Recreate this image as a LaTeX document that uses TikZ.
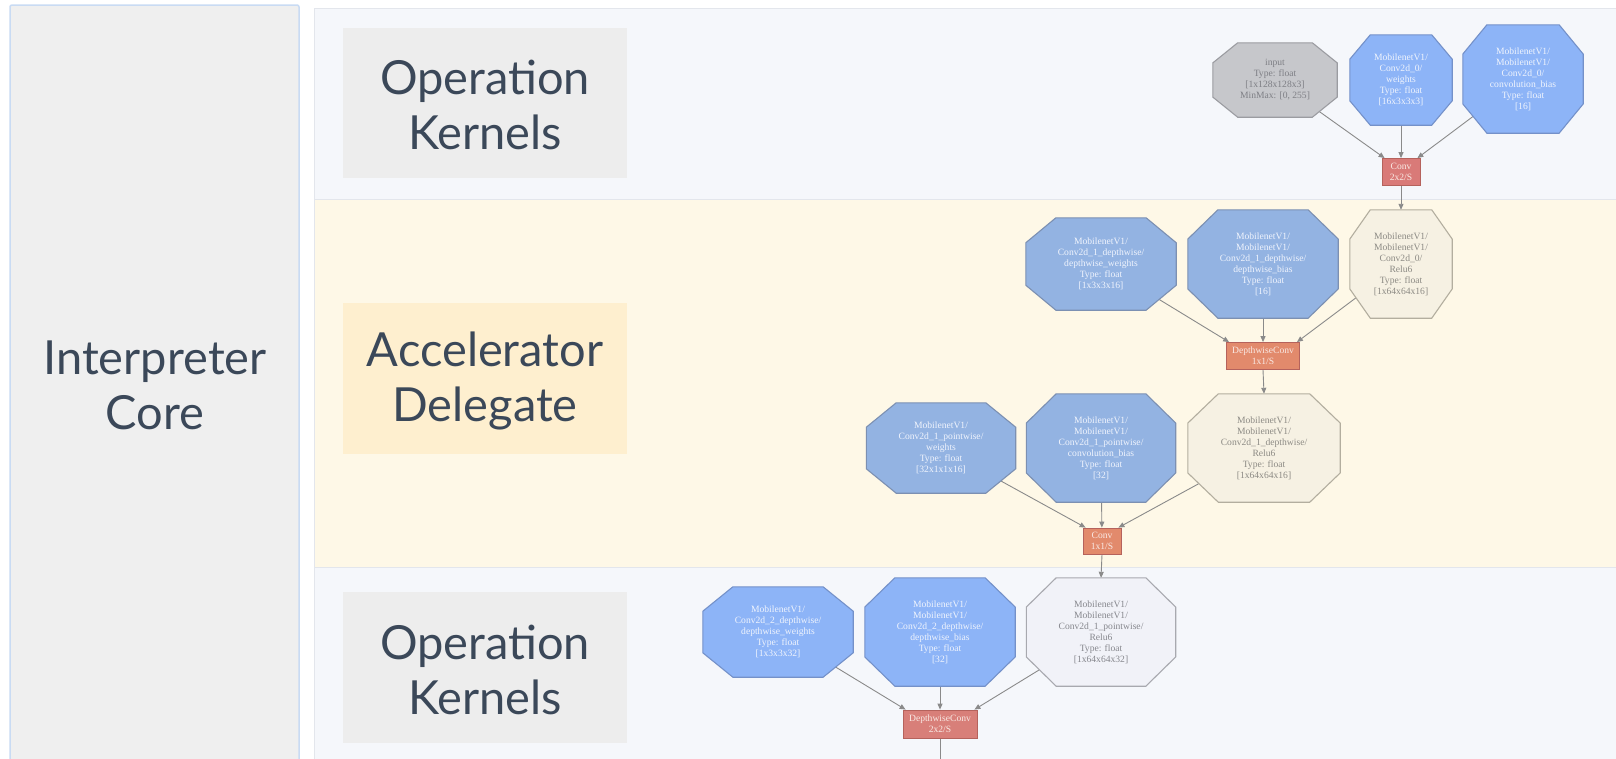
\documentclass[tikz,border=0pt]{standalone}
\usepackage{fontspec}
\setmainfont{Liberation Serif}
\newfontfamily\labelfont{Lato}
\usetikzlibrary{arrows.meta,calc}
\definecolor{leftfill}{HTML}{EFEFEF}
\definecolor{leftdraw}{HTML}{C9DBF3}
\definecolor{bandgrey}{HTML}{F5F7FB}
\definecolor{bandline}{HTML}{E3E6EC}
\definecolor{bandyellow}{HTML}{FEF8E7}
\definecolor{lblgrey}{HTML}{EDEDED}
\definecolor{lblyellow}{HTML}{FEEFCF}
\definecolor{lbltext}{HTML}{3B4859}
\definecolor{blueT}{HTML}{8DB4F7}
\definecolor{blueTd}{HTML}{7491C9}
\definecolor{blueY}{HTML}{93B3E2}
\definecolor{blueYd}{HTML}{7C90B2}
\definecolor{creamF}{HTML}{F6F1E3}
\definecolor{creamD}{HTML}{B3AE9F}
\definecolor{lightF}{HTML}{F1F2F8}
\definecolor{lightD}{HTML}{A8A9AF}
\definecolor{greyF}{HTML}{C6C7CB}
\definecolor{greyD}{HTML}{9B9CA1}
\definecolor{opT}{HTML}{D97A78}
\definecolor{opY}{HTML}{E28A6C}
\definecolor{opB}{HTML}{D87F79}
\definecolor{opD}{HTML}{B5625C}
\definecolor{edgecol}{HTML}{8A8A8A}
\definecolor{whitetext}{HTML}{F0F4FD}
\definecolor{greytext}{HTML}{8C8A84}
\definecolor{greytextB}{HTML}{86878D}
\definecolor{greytextI}{HTML}{7E7F85}
\definecolor{optext}{HTML}{F9E9E4}
\pgfdeclarelayer{back}
\pgfdeclarelayer{edges}
\pgfdeclarelayer{shapes}
\pgfsetlayers{back,edges,shapes,main}
\newcommand\octagonshape[2]{%
  \begin{pgfonlayer}{shapes}
    \path[#2] ($(#1.south west)!0.2!(#1.south east)$) -- ($(#1.south west)!0.8!(#1.south east)$)
      -- ($(#1.south east)!0.27!(#1.north east)$) -- ($(#1.south east)!0.73!(#1.north east)$)
      -- ($(#1.north east)!0.2!(#1.north west)$) -- ($(#1.north east)!0.8!(#1.north west)$)
      -- ($(#1.north west)!0.27!(#1.south west)$) -- ($(#1.north west)!0.73!(#1.south west)$)
      -- cycle;
  \end{pgfonlayer}}
\tikzset{
  octnode/.style={rectangle, inner sep=0pt, align=center, font=\fontsize{9.6}{11}\selectfont},
  bluetxt/.style={octnode, text=whitetext},
  greytxt/.style={octnode, text=greytext},
  blueTshape/.style={fill=blueT, draw=blueTd, line width=1.1pt},
  blueYshape/.style={fill=blueY, draw=blueYd, line width=1.1pt},
  creamshape/.style={fill=creamF, draw=creamD, line width=1.1pt},
  lightshape/.style={fill=lightF, draw=lightD, line width=1.1pt},
  greyshape/.style={fill=greyF, draw=greyD, line width=1.1pt},
  opbox/.style={rectangle, inner sep=0pt, align=center, draw=opD, line width=0.8pt,
    text=optext, font=\fontsize{9.6}{11}\selectfont},
  edge/.style={draw=edgecol, line width=0.9pt, -{Triangle[length=6pt,width=5pt]}},
  plainedge/.style={draw=edgecol, line width=0.9pt},
  lblbox/.style={rectangle, inner sep=0pt, align=center, minimum width=284, minimum height=150,
    text=lbltext, font=\labelfont\fontsize{47}{55}\selectfont},
}
\begin{document}
\begin{tikzpicture}[x=1pt, y=-1pt]
\useasboundingbox (0,0) rectangle (1616,758);
\begin{pgfonlayer}{back}
  \fill[white] (0,0) rectangle (1616,758);
  \path[fill=leftfill, draw=leftdraw, line width=1.5pt, rounded corners=2pt] (10,5) rectangle (299,775);
  \path[fill=bandgrey, draw=bandline, line width=0.8pt] (314,8) rectangle (1640,199);
  \path[fill=bandyellow, draw=bandline, line width=0.8pt] (314,199) rectangle (1640,567);
  \path[fill=bandgrey, draw=bandline, line width=0.8pt] (314,567) rectangle (1640,775);
\end{pgfonlayer}

% labels
\node[lblbox, minimum width=0, minimum height=0] (core) at (155,385) {Interpreter\\Core};
\node[lblbox, fill=lblgrey] (okTop) at (485,102.5) {};
\node[lblbox, minimum width=0, minimum height=0] (okTopT) at (485,105) {Operation\\Kernels};
\node[lblbox, fill=lblyellow, minimum height=151] (acc) at (485,378.5) {};
\node[lblbox, minimum width=0, minimum height=0] (accT) at (485,381) {Accelerator\\Delegate};
\node[lblbox, fill=lblgrey, minimum height=151] (okBot) at (485,667.5) {};
\node[lblbox, minimum width=0, minimum height=0] (okBotT) at (485,670) {Operation\\Kernels};

% top band
\node[greytxt, text=greytextI, minimum width=124, minimum height=74] (in) at (1275,80)
  {input\\Type: float\\{[1x128x128x3]}\\MinMax: {[0, 255]}};
\node[bluetxt, minimum width=102, minimum height=90] (w0) at (1401,80)
  {MobilenetV1/\\Conv2d\_0/\\weights\\Type: float\\{[16x3x3x3]}};
\node[bluetxt, minimum width=120, minimum height=108] (b0) at (1523,79)
  {MobilenetV1/\\MobilenetV1/\\Conv2d\_0/\\convolution\_bias\\Type: float\\{[16]}};
\node[opbox, fill=opT, minimum width=38, minimum height=27] (c0) at (1401,172) {Conv\\2x2/S};
\octagonshape{in}{greyshape}
\octagonshape{w0}{blueTshape}
\octagonshape{b0}{blueTshape}

% yellow band, row 1
\node[bluetxt, minimum width=150, minimum height=92] (dw1w) at (1101,264)
  {MobilenetV1/\\Conv2d\_1\_depthwise/\\depthwise\_weights\\Type: float\\{[1x3x3x16]}};
\node[bluetxt, minimum width=150, minimum height=108] (dw1b) at (1263,264)
  {MobilenetV1/\\MobilenetV1/\\Conv2d\_1\_depthwise/\\depthwise\_bias\\Type: float\\{[16]}};
\node[greytxt, minimum width=102, minimum height=108] (r0) at (1401,264)
  {MobilenetV1/\\MobilenetV1/\\Conv2d\_0/\\Relu6\\Type: float\\{[1x64x64x16]}};
\node[opbox, fill=opY, minimum width=73, minimum height=27] (dc1) at (1263,356) {DepthwiseConv\\1x1/S};
\octagonshape{dw1w}{blueYshape}
\octagonshape{dw1b}{blueYshape}
\octagonshape{r0}{creamshape}

% yellow band, row 2
\node[bluetxt, minimum width=149, minimum height=90] (pww) at (941,448)
  {MobilenetV1/\\Conv2d\_1\_pointwise/\\weights\\Type: float\\{[32x1x1x16]}};
\node[bluetxt, minimum width=149, minimum height=108] (pwb) at (1101,448)
  {MobilenetV1/\\MobilenetV1/\\Conv2d\_1\_pointwise/\\convolution\_bias\\Type: float\\{[32]}};
\node[greytxt, minimum width=152, minimum height=108] (r1) at (1264,448)
  {MobilenetV1/\\MobilenetV1/\\Conv2d\_1\_depthwise/\\Relu6\\Type: float\\{[1x64x64x16]}};
\node[opbox, fill=opY, minimum width=38, minimum height=26] (c1) at (1102,541) {Conv\\1x1/S};
\octagonshape{pww}{blueYshape}
\octagonshape{pwb}{blueYshape}
\octagonshape{r1}{creamshape}

% bottom band
\node[bluetxt, minimum width=150, minimum height=90] (dw2w) at (778,632)
  {MobilenetV1/\\Conv2d\_2\_depthwise/\\depthwise\_weights\\Type: float\\{[1x3x3x32]}};
\node[bluetxt, minimum width=150, minimum height=108] (dw2b) at (940,632)
  {MobilenetV1/\\MobilenetV1/\\Conv2d\_2\_depthwise/\\depthwise\_bias\\Type: float\\{[32]}};
\node[greytxt, text=greytextB, minimum width=149, minimum height=108] (r2) at (1101,632)
  {MobilenetV1/\\MobilenetV1/\\Conv2d\_1\_pointwise/\\Relu6\\Type: float\\{[1x64x64x32]}};
\node[opbox, fill=opB, minimum width=74, minimum height=28] (dc2) at (940,724) {DepthwiseConv\\2x2/S};
\octagonshape{dw2w}{blueTshape}
\octagonshape{dw2b}{blueTshape}
\octagonshape{r2}{lightshape}
\coordinate (out) at (940,762);

% connectors
\begin{pgfonlayer}{edges}
  \draw[edge] (in.center) -- ([xshift=3pt]c0.north west);
  \draw[edge] (w0) -- (c0);
  \draw[edge] (b0.center) -- ([xshift=-3pt]c0.north east);
  \draw[edge] (c0) -- (r0);
  \draw[edge] (dw1w.center) -- ([xshift=3pt]dc1.north west);
  \draw[edge] (dw1b) -- (dc1);
  \draw[edge] (r0.center) -- ([xshift=-3pt]dc1.north east);
  \draw[edge] (dc1.south) -- (r1.north);
  \draw[edge] (pww.center) -- ([xshift=3pt]c1.north west);
  \draw[edge] (pwb) -- (c1);
  \draw[edge] (r1.center) -- ([xshift=-3pt]c1.north east);
  \draw[edge] (c1.south) -- (r2.north);
  \draw[edge] (dw2w.center) -- ([xshift=3pt]dc2.north west);
  \draw[edge] (dw2b) -- (dc2);
  \draw[edge] (r2.center) -- ([xshift=-3pt]dc2.north east);
  \draw[plainedge] (dc2) -- (out);
\end{pgfonlayer}
\end{tikzpicture}
\end{document}
